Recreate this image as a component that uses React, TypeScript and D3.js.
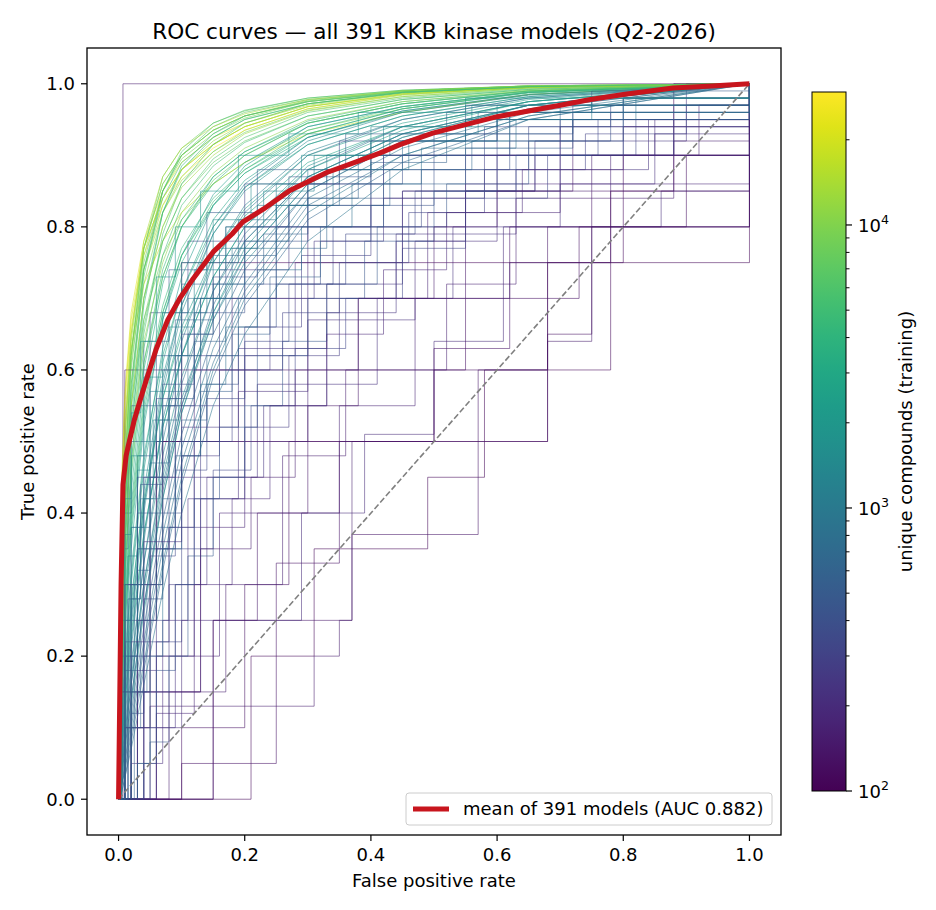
import * as d3 from 'd3';

// False positive rates shared by the smooth (large / mid sized) model curves
const fprGrid = [0, 0.005, 0.01, 0.02, 0.04, 0.07, 0.1, 0.15, 0.2, 0.3, 0.45, 0.65, 1];

// Large models (green / yellow): compounds and TPR at fprGrid
const largeSizes = [29000, 22000, 18000, 15000, 13000, 12000, 11000, 10000, 9500, 9000, 8500, 8000, 7500, 7000,
  6500, 6000, 5600, 5200, 4800, 4400, 4000, 3700, 14000, 20000, 5800, 12500, 8800, 5400, 4300, 3600, 7200, 10500, 5000];
const largeTpr = [
  [0, .42, .55, .66, .76, .83, .87, .91, .935, .965, .985, .995, 1],
  [0, .45, .57, .68, .78, .85, .89, .925, .945, .972, .988, .996, 1],
  [0, .38, .52, .63, .72, .78, .82, .86, .89, .93, .96, .985, 1],
  [0, .40, .53, .65, .77, .84, .88, .915, .94, .968, .986, .995, 1],
  [0, .36, .50, .63, .74, .82, .865, .905, .935, .965, .984, .995, 1],
  [0, .33, .47, .61, .74, .83, .88, .92, .945, .97, .987, .996, 1],
  [0, .35, .50, .64, .77, .86, .90, .935, .955, .977, .99, .997, 1],
  [0, .30, .44, .58, .72, .82, .87, .915, .94, .968, .985, .995, 1],
  [0, .32, .47, .62, .76, .85, .895, .93, .952, .975, .989, .996, 1],
  [0, .28, .42, .55, .67, .76, .81, .86, .89, .935, .965, .988, 1],
  [0, .31, .46, .62, .77, .87, .91, .945, .962, .98, .991, .997, 1],
  [0, .26, .40, .55, .70, .80, .86, .905, .932, .963, .982, .994, 1],
  [0, .29, .44, .60, .75, .85, .90, .935, .955, .976, .989, .996, 1],
  [0, .24, .37, .52, .67, .78, .84, .89, .92, .955, .978, .992, 1],
  [0, .27, .41, .58, .74, .85, .90, .94, .96, .978, .99, .997, 1],
  [0, .22, .35, .50, .66, .78, .84, .895, .925, .96, .98, .993, 1],
  [0, .25, .39, .56, .73, .85, .905, .945, .963, .98, .991, .997, 1],
  [0, .20, .32, .47, .63, .76, .83, .885, .918, .955, .978, .992, 1],
  [0, .23, .36, .53, .70, .82, .88, .925, .95, .972, .987, .995, 1],
  [0, .18, .30, .45, .61, .74, .81, .87, .905, .948, .975, .99, 1],
  [0, .21, .34, .51, .69, .82, .885, .93, .955, .975, .988, .996, 1],
  [0, .17, .28, .43, .60, .73, .80, .86, .90, .945, .972, .99, 1],
  [0, .37, .51, .65, .78, .87, .91, .94, .958, .978, .99, .997, 1],
  [0, .43, .56, .67, .77, .84, .88, .915, .94, .968, .986, .995, 1],
  [0, .19, .31, .47, .65, .79, .86, .915, .945, .972, .988, .996, 1],
  [0, .27, .40, .55, .70, .80, .855, .90, .93, .962, .982, .994, 1],
  [0, .30, .45, .62, .77, .86, .90, .935, .955, .975, .99, .997, 1],
  [0, .26, .40, .57, .74, .84, .89, .925, .95, .972, .988, .996, 1],
  [0, .16, .26, .40, .56, .69, .77, .84, .88, .93, .965, .988, 1],
  [0, .14, .24, .38, .54, .68, .76, .83, .875, .93, .965, .987, 1],
  [0, .20, .32, .46, .61, .73, .80, .865, .90, .945, .972, .99, 1],
  [0, .24, .36, .50, .64, .75, .82, .875, .91, .95, .975, .991, 1],
  [0, .15, .25, .39, .55, .68, .76, .835, .88, .935, .968, .989, 1],
];

// Mid sized models (teal / blue)
const midSizes = [3400, 3000, 2700, 2400, 2100, 1900, 1700, 1550, 1400, 1250, 1150, 1050, 950, 880, 820, 760,
  700, 640, 3200, 2300, 1800, 1300, 1000, 600, 2800, 1600, 2500, 900];
const midTpr = [
  [0, .15, .24, .37, .53, .67, .75, .83, .875, .925, .96, .985, 1],
  [0, .12, .20, .32, .48, .62, .71, .80, .855, .915, .955, .982, 1],
  [0, .10, .18, .30, .46, .61, .71, .81, .865, .925, .962, .985, 1],
  [0, .08, .15, .26, .41, .56, .66, .76, .825, .90, .945, .978, 1],
  [0, .11, .19, .31, .47, .63, .73, .83, .885, .94, .968, .988, 1],
  [0, .06, .12, .22, .37, .52, .62, .73, .80, .885, .94, .975, 1],
  [0, .09, .16, .27, .43, .59, .69, .79, .85, .915, .955, .982, 1],
  [0, .05, .10, .19, .33, .48, .59, .71, .78, .87, .93, .97, 1],
  [0, .07, .13, .24, .40, .57, .68, .79, .855, .92, .96, .984, 1],
  [0, .04, .08, .16, .29, .44, .55, .67, .75, .85, .92, .965, 1],
  [0, .06, .11, .21, .36, .53, .64, .76, .83, .905, .95, .98, 1],
  [0, .03, .07, .14, .27, .42, .54, .67, .76, .86, .925, .97, 1],
  [0, .05, .09, .18, .33, .50, .62, .75, .82, .90, .95, .98, 1],
  [0, .02, .05, .11, .22, .37, .49, .63, .72, .84, .91, .96, 1],
  [0, .04, .08, .16, .30, .46, .58, .71, .79, .88, .94, .975, 1],
  [0, .02, .04, .10, .21, .35, .47, .61, .71, .83, .90, .955, 1],
  [0, .03, .07, .14, .27, .43, .55, .69, .78, .87, .93, .97, 1],
  [0, .01, .03, .08, .18, .32, .44, .59, .69, .81, .89, .95, 1],
  [0, .17, .27, .41, .58, .72, .80, .87, .905, .945, .972, .99, 1],
  [0, .13, .22, .35, .52, .67, .76, .845, .89, .94, .968, .988, 1],
  [0, .03, .06, .13, .26, .42, .54, .68, .77, .87, .93, .97, 1],
  [0, .08, .14, .25, .41, .58, .69, .80, .86, .925, .962, .985, 1],
  [0, .02, .04, .09, .19, .33, .45, .60, .70, .82, .90, .955, 1],
  [0, .02, .05, .12, .24, .39, .51, .65, .74, .85, .92, .965, 1],
  [0, .10, .17, .28, .42, .56, .65, .75, .815, .89, .94, .975, 1],
  [0, .04, .09, .17, .30, .45, .56, .68, .76, .86, .925, .97, 1],
  [0, .07, .13, .23, .37, .52, .62, .73, .80, .88, .935, .975, 1],
  [0, .01, .03, .07, .16, .29, .40, .55, .65, .78, .88, .95, 1],
];

// Small models (purple / blue): staircase corners, each point = move right to fpr, then up to tpr
const stepSizes = [110, 140, 160, 200, 180, 250, 130, 300, 220, 150, 350, 400, 105, 115, 125, 145, 190, 260,
  320, 450, 230, 165, 280, 135, 500, 600, 210, 175, 380, 240,
  420, 560, 700, 330, 270, 900, 1200, 480, 350, 620, 800, 300, 1500, 190, 240, 1000, 450, 380, 2000, 160, 540, 850];
const stepCurves = [
  [[0, 0], [0.21, 0.2], [0.31, 0.35], [0.49, 0.45], [0.58, 0.6], [0.78, 0.75], [1, 1]],
  [[0, 0], [0.15, 0.25], [0.37, 0.37], [0.57, 0.6], [0.68, 0.8], [1, 1]],
  [[0, 0], [0.05, 0.13], [0.31, 0.2], [0.35, 0.25], [0.37, 0.5], [0.68, 0.64], [0.75, 0.8], [1, 1]],
  [[0, 0], [0.02, 0.1], [0.1, 0.25], [0.29, 0.4], [0.39, 0.51], [0.5, 0.64], [0.61, 0.8], [0.86, 0.85], [1, 1]],
  [[0, 0], [0.04, 0.2], [0.16, 0.4], [0.35, 0.55], [0.47, 0.7], [0.62, 0.75], [0.78, 0.9], [1, 1]],
  [[0, 0], [0.01, 0.3], [0.06, 0.5], [0.2, 0.62], [0.28, 0.75], [0.45, 0.85], [0.66, 0.92], [0.9, 1], [1, 1]],
  [[0, 0], [0.1, 0.1], [0.2, 0.3], [0.27, 0.5], [0.5, 0.6], [0.55, 0.7], [0.73, 0.8], [1, 1]],
  [[0, 0], [0.03, 0.35], [0.08, 0.55], [0.13, 0.7], [0.25, 0.8], [0.4, 0.9], [0.6, 0.95], [1, 1]],
  [[0, 0], [0.06, 0.2], [0.12, 0.45], [0.22, 0.58], [0.41, 0.7], [0.53, 0.8], [0.7, 0.86], [0.85, 0.93], [1, 1]],
  [[0, 0], [0.007, 1], [1, 1]],
  [[0, 0], [0.02, 0.15], [0.05, 0.35], [0.09, 0.5], [0.16, 0.62], [0.22, 0.72], [0.34, 0.8], [0.48, 0.88], [0.65, 0.94], [1, 1]],
  [[0, 0], [0.01, 0.2], [0.03, 0.4], [0.07, 0.55], [0.12, 0.68], [0.2, 0.78], [0.3, 0.86], [0.45, 0.9], [0.62, 0.96], [0.8, 0.98], [1, 1]],
  [[0, 0], [0.03, 0.25], [0.06, 0.5], [0.1, 0.75], [0.78, 0.85], [0.88, 1], [1, 1]],
  [[0, 0], [0.01, 0.1], [0.05, 0.3], [0.07, 0.5], [0.68, 0.75], [0.8, 0.9], [1, 1]],
  [[0, 0], [0.01, 0.6], [0.68, 0.65], [0.75, 0.8], [0.9, 0.9], [1, 1]],
  [[0, 0], [0.15, 0.25], [0.22, 0.4], [0.3, 0.55], [0.38, 0.7], [0.55, 0.85], [0.72, 0.95], [1, 1]],
  [[0, 0], [0.02, 0.3], [0.05, 0.45], [0.12, 0.6], [0.18, 0.7], [0.3, 0.8], [0.55, 0.86], [1, 1]],
  [[0, 0], [0.01, 0.25], [0.04, 0.45], [0.09, 0.62], [0.16, 0.74], [0.27, 0.83], [0.42, 0.9], [0.7, 0.95], [1, 1]],
  [[0, 0], [0.005, 0.4], [0.02, 0.55], [0.05, 0.68], [0.11, 0.78], [0.2, 0.86], [0.35, 0.92], [0.55, 0.97], [1, 1]],
  [[0, 0], [0.01, 0.3], [0.03, 0.48], [0.06, 0.62], [0.1, 0.72], [0.17, 0.8], [0.27, 0.87], [0.4, 0.92], [0.6, 0.96], [1, 1]],
  [[0, 0], [0.06, 0.1], [0.09, 0.3], [0.14, 0.45], [0.23, 0.55], [0.33, 0.68], [0.44, 0.79], [0.63, 0.88], [0.84, 0.95], [1, 1]],
  [[0, 0], [0.03, 0.15], [0.17, 0.3], [0.26, 0.48], [0.36, 0.6], [0.52, 0.72], [0.63, 0.84], [0.88, 0.92], [1, 1]],
  [[0, 0], [0.04, 0.22], [0.08, 0.38], [0.13, 0.55], [0.2, 0.66], [0.29, 0.76], [0.4, 0.84], [0.58, 0.9], [0.88, 0.97], [1, 1]],
  [[0, 0], [0.1, 0.05], [0.25, 0.33], [0.35, 0.5], [0.5, 0.63], [0.62, 0.8], [0.75, 0.85], [1, 1]],
  [[0, 0], [0.005, 0.35], [0.015, 0.5], [0.04, 0.64], [0.08, 0.74], [0.14, 0.82], [0.22, 0.88], [0.36, 0.93], [0.52, 0.96], [0.75, 0.99], [1, 1]],
  [[0, 0], [0.01, 0.22], [0.02, 0.38], [0.05, 0.55], [0.09, 0.67], [0.15, 0.76], [0.25, 0.84], [0.38, 0.9], [0.55, 0.95], [0.8, 0.98], [1, 1]],
  [[0, 0], [0.02, 0.05], [0.07, 0.25], [0.11, 0.42], [0.19, 0.57], [0.3, 0.67], [0.47, 0.78], [0.6, 0.9], [0.85, 0.95], [1, 1]],
  [[0, 0], [0, 0.15], [0.13, 0.38], [0.2, 0.5], [0.3, 0.7], [0.49, 0.82], [0.7, 0.9], [0.92, 0.97], [1, 1]],
  [[0, 0], [0.015, 0.28], [0.035, 0.44], [0.07, 0.58], [0.12, 0.7], [0.2, 0.8], [0.33, 0.88], [0.5, 0.93], [0.72, 0.97], [1, 1]],
  [[0, 0], [0.03, 0.18], [0.06, 0.35], [0.1, 0.52], [0.19, 0.63], [0.33, 0.72], [0.45, 0.85], [0.66, 0.9], [1, 1]],
  [[0, 0], [0.02, 0.12], [0.04, 0.28], [0.07, 0.4], [0.1, 0.5], [0.14, 0.58], [0.19, 0.66], [0.25, 0.72], [0.32, 0.78], [0.4, 0.83], [0.5, 0.88], [0.62, 0.92], [0.78, 0.96], [1, 1]],
  [[0, 0], [0.01, 0.18], [0.03, 0.32], [0.05, 0.45], [0.08, 0.56], [0.12, 0.64], [0.17, 0.72], [0.23, 0.79], [0.3, 0.84], [0.4, 0.89], [0.52, 0.93], [0.7, 0.97], [1, 1]],
  [[0, 0], [0.015, 0.2], [0.03, 0.35], [0.05, 0.47], [0.08, 0.57], [0.11, 0.65], [0.15, 0.72], [0.2, 0.78], [0.27, 0.83], [0.35, 0.88], [0.45, 0.92], [0.6, 0.95], [0.8, 0.98], [1, 1]],
  [[0, 0], [0.03, 0.1], [0.06, 0.22], [0.1, 0.35], [0.15, 0.46], [0.21, 0.55], [0.28, 0.63], [0.36, 0.7], [0.45, 0.77], [0.55, 0.84], [0.68, 0.9], [0.82, 0.95], [1, 1]],
  [[0, 0], [0.04, 0.15], [0.08, 0.3], [0.13, 0.42], [0.2, 0.52], [0.27, 0.62], [0.35, 0.7], [0.44, 0.78], [0.55, 0.85], [0.7, 0.9], [0.88, 0.95], [1, 1]],
  [[0, 0], [0.01, 0.25], [0.02, 0.38], [0.04, 0.5], [0.07, 0.6], [0.1, 0.68], [0.14, 0.75], [0.19, 0.81], [0.25, 0.86], [0.33, 0.9], [0.43, 0.93], [0.57, 0.96], [0.75, 0.98], [1, 1]],
  [[0, 0], [0.005, 0.2], [0.015, 0.34], [0.03, 0.46], [0.05, 0.57], [0.08, 0.66], [0.12, 0.74], [0.17, 0.8], [0.23, 0.85], [0.31, 0.9], [0.42, 0.94], [0.6, 0.97], [1, 1]],
  [[0, 0], [0.05, 0.08], [0.08, 0.2], [0.11, 0.34], [0.15, 0.45], [0.2, 0.55], [0.26, 0.64], [0.33, 0.72], [0.41, 0.8], [0.52, 0.86], [0.65, 0.92], [0.8, 0.96], [1, 1]],
  [[0, 0], [0.02, 0.2], [0.05, 0.34], [0.09, 0.46], [0.14, 0.56], [0.2, 0.64], [0.27, 0.72], [0.36, 0.79], [0.47, 0.85], [0.6, 0.9], [0.76, 0.95], [1, 1]],
  [[0, 0], [0.025, 0.15], [0.045, 0.3], [0.07, 0.42], [0.1, 0.53], [0.14, 0.62], [0.19, 0.7], [0.25, 0.77], [0.33, 0.83], [0.43, 0.88], [0.56, 0.92], [0.72, 0.96], [1, 1]],
  [[0, 0], [0.03, 0.05], [0.05, 0.2], [0.07, 0.35], [0.1, 0.48], [0.13, 0.58], [0.17, 0.66], [0.22, 0.74], [0.29, 0.8], [0.37, 0.86], [0.48, 0.91], [0.63, 0.95], [0.82, 0.98], [1, 1]],
  [[0, 0], [0.01, 0.1], [0.04, 0.25], [0.08, 0.38], [0.12, 0.5], [0.18, 0.6], [0.26, 0.68], [0.35, 0.75], [0.46, 0.82], [0.58, 0.88], [0.74, 0.93], [0.9, 0.97], [1, 1]],
  [[0, 0], [0.005, 0.25], [0.01, 0.37], [0.02, 0.48], [0.04, 0.59], [0.07, 0.68], [0.1, 0.75], [0.15, 0.81], [0.21, 0.86], [0.29, 0.9], [0.4, 0.94], [0.56, 0.97], [1, 1]],
  [[0, 0], [0.06, 0.12], [0.12, 0.3], [0.18, 0.42], [0.24, 0.55], [0.33, 0.65], [0.42, 0.74], [0.52, 0.82], [0.64, 0.88], [0.8, 0.94], [1, 1]],
  [[0, 0], [0.02, 0.22], [0.04, 0.36], [0.1, 0.48], [0.16, 0.6], [0.24, 0.7], [0.31, 0.78], [0.42, 0.84], [0.55, 0.9], [0.7, 0.94], [1, 0.97], [1, 1]],
  [[0, 0], [0.02, 0.28], [0.035, 0.42], [0.055, 0.53], [0.08, 0.62], [0.11, 0.7], [0.16, 0.77], [0.22, 0.83], [0.3, 0.88], [0.4, 0.92], [0.55, 0.95], [0.75, 0.98], [1, 1]],
  [[0, 0], [0.04, 0.05], [0.06, 0.18], [0.09, 0.3], [0.12, 0.42], [0.16, 0.52], [0.22, 0.62], [0.3, 0.7], [0.39, 0.78], [0.5, 0.85], [0.63, 0.9], [0.8, 0.95], [1, 1]],
  [[0, 0], [0.01, 0.3], [0.03, 0.45], [0.06, 0.56], [0.1, 0.65], [0.15, 0.73], [0.22, 0.8], [0.3, 0.86], [0.42, 0.9], [0.58, 0.94], [0.78, 0.97], [1, 1]],
  [[0, 0], [0.005, 0.3], [0.01, 0.42], [0.02, 0.54], [0.035, 0.64], [0.06, 0.73], [0.09, 0.8], [0.13, 0.85], [0.19, 0.9], [0.27, 0.93], [0.38, 0.96], [0.55, 0.98], [1, 1]],
  [[0, 0], [0.08, 0.15], [0.13, 0.35], [0.21, 0.45], [0.28, 0.6], [0.38, 0.7], [0.5, 0.8], [0.6, 0.85], [0.75, 0.9], [1, 0.95], [1, 1]],
  [[0, 0], [0.015, 0.1], [0.035, 0.25], [0.06, 0.38], [0.09, 0.48], [0.13, 0.57], [0.18, 0.65], [0.24, 0.73], [0.32, 0.8], [0.42, 0.86], [0.55, 0.91], [0.72, 0.95], [1, 1]],
  [[0, 0], [0.01, 0.15], [0.025, 0.3], [0.04, 0.42], [0.065, 0.53], [0.095, 0.62], [0.13, 0.7], [0.18, 0.77], [0.25, 0.83], [0.34, 0.88], [0.46, 0.92], [0.62, 0.96], [1, 1]],
];

// Mean ROC over all models
const meanFpr = [0, 0.004, 0.007, 0.012, 0.017, 0.025, 0.035, 0.044, 0.06, 0.078, 0.097, 0.117, 0.15, 0.18, 0.197,
  0.23, 0.27, 0.33, 0.38, 0.414, 0.446, 0.498, 0.55, 0.6, 0.65, 0.7, 0.748, 0.8, 0.879, 0.94, 1];
const meanTpr = [0, 0.3, 0.44, 0.48, 0.5, 0.53, 0.56, 0.586, 0.63, 0.67, 0.7, 0.726, 0.765, 0.79, 0.807,
  0.825, 0.85, 0.876, 0.892, 0.903, 0.915, 0.931, 0.943, 0.954, 0.962, 0.97, 0.978, 0.985, 0.994, 0.997, 1];

const axisTicks = [0, 0.2, 0.4, 0.6, 0.8, 1.0];
const cbarMajor = [100, 1000, 10000];
const cbarMinor = [200, 300, 400, 500, 600, 700, 800, 900, 2000, 3000, 4000, 5000, 6000, 7000, 8000, 9000, 20000];
const cbarMax = 29500;

const FONT = 'DejaVu Sans, sans-serif';

export default function App() {
  const left = 87, right = 781, top = 48, bottom = 835;
  const x = d3.scaleLinear().domain([-0.05, 1.05]).range([left, right]);
  const y = d3.scaleLinear().domain([-0.05, 1.05]).range([bottom, top]);

  const cbX = 812, cbW = 34, cbTop = 92, cbBottom = 791;
  const cb = d3.scaleLog().domain([100, cbarMax]).range([cbBottom, cbTop]);
  const colorT = d3.scaleLog().domain([100, cbarMax]).range([0, 1]).clamp(true);
  const color = (n: number) => d3.interpolateViridis(colorT(n));

  const lineLin = d3.line<number[]>().x((d) => x(d[0])).y((d) => y(d[1]));
  const lineStep = d3.line<number[]>().x((d) => x(d[0])).y((d) => y(d[1])).curve(d3.curveStepAfter);

  const smooth = (tpr: number[]) => fprGrid.map((f, i) => [f, tpr[i]]);

  // interleave the groups so draw order is mixed
  const curves: { d: string; c: string }[] = [];
  const n = Math.max(largeSizes.length, midSizes.length, stepSizes.length);
  for (let i = 0; i < n; i++) {
    if (i < midSizes.length) curves.push({ d: lineLin(smooth(midTpr[i]))!, c: color(midSizes[i]) });
    if (i < largeSizes.length) curves.push({ d: lineLin(smooth(largeTpr[i]))!, c: color(largeSizes[i]) });
    if (i < stepSizes.length) curves.push({ d: lineStep(stepCurves[i])!, c: color(stepSizes[i]) });
  }

  const meanPath = lineLin(meanFpr.map((f, i) => [f, meanTpr[i]]))!;
  const gradStops = d3.range(0, 1.0001, 0.05);

  return (
    <svg width={936} height={910}
      style={{ position: 'absolute', left: 0, top: 0, display: 'block', background: '#fff', fontFamily: FONT }}>
      <defs>
        <linearGradient id="viridis" x1="0" y1="1" x2="0" y2="0">
          {gradStops.map((t) => (
            <stop key={t} offset={t} stopColor={d3.interpolateViridis(t)} />
          ))}
        </linearGradient>
        <clipPath id="plotClip">
          <rect x={left} y={top} width={right - left} height={bottom - top} />
        </clipPath>
      </defs>

      <text x={(left + right) / 2} y={39} textAnchor="middle" fontSize={21.6}>
        ROC curves — all 391 KKB kinase models (Q2-2026)
      </text>

      <g clipPath="url(#plotClip)">
        {curves.map((c, i) => (
          <path key={i} d={c.d} fill="none" stroke={c.c} strokeWidth={1} strokeOpacity={0.55} />
        ))}
        <line x1={x(0)} y1={y(0)} x2={x(1)} y2={y(1)} stroke="#808080" strokeWidth={1.6} strokeDasharray="6 2.6" />
        <path d={meanPath} fill="none" stroke="#c8151d" strokeWidth={5} strokeLinejoin="round" />
      </g>

      <rect x={left} y={top} width={right - left} height={bottom - top} fill="none" stroke="#000" strokeWidth={1.3} />

      {axisTicks.map((t) => (
        <g key={'x' + t}>
          <line x1={x(t)} x2={x(t)} y1={bottom} y2={bottom + 6} stroke="#000" strokeWidth={1.2} />
          <text x={x(t)} y={861} textAnchor="middle" fontSize={18}>{t.toFixed(1)}</text>
        </g>
      ))}
      {axisTicks.map((t) => (
        <g key={'y' + t}>
          <line x1={left - 6} x2={left} y1={y(t)} y2={y(t)} stroke="#000" strokeWidth={1.2} />
          <text x={left - 12} y={y(t)} dy="0.35em" textAnchor="end" fontSize={18}>{t.toFixed(1)}</text>
        </g>
      ))}
      <text x={(left + right) / 2} y={887} textAnchor="middle" fontSize={18}>False positive rate</text>
      <text transform={`translate(28,${(top + bottom) / 2}) rotate(-90)`} textAnchor="middle" dy="0.35em" fontSize={18}>
        True positive rate
      </text>

      <g>
        <rect x={406} y={793} width={366} height={32} rx={3} fill="#fff" fillOpacity={0.8} stroke="#cccccc" strokeWidth={1} />
        <line x1={413} x2={449} y1={809} y2={809} stroke="#c8151d" strokeWidth={5} />
        <text x={463} y={809} dy="0.35em" fontSize={18}>mean of 391 models (AUC 0.882)</text>
      </g>

      <rect x={cbX} y={cbTop} width={cbW} height={cbBottom - cbTop} fill="url(#viridis)" stroke="#000" strokeWidth={1} />
      {cbarMinor.map((v) => (
        <line key={v} x1={cbX + cbW} x2={cbX + cbW + 3.5} y1={cb(v)} y2={cb(v)} stroke="#000" strokeWidth={1} />
      ))}
      {cbarMajor.map((v) => (
        <g key={v}>
          <line x1={cbX + cbW} x2={cbX + cbW + 6} y1={cb(v)} y2={cb(v)} stroke="#000" strokeWidth={1.2} />
          <text x={cbX + cbW + 12} y={cb(v)} dy="0.4em" fontSize={18}>
            10<tspan dy="-8" fontSize={12.6}>{Math.round(Math.log10(v))}</tspan>
          </text>
        </g>
      ))}
      <text transform={`translate(906,${(cbTop + cbBottom) / 2}) rotate(-90)`} textAnchor="middle" dy="0.35em" fontSize={18}>
        unique compounds (training)
      </text>
    </svg>
  );
}
